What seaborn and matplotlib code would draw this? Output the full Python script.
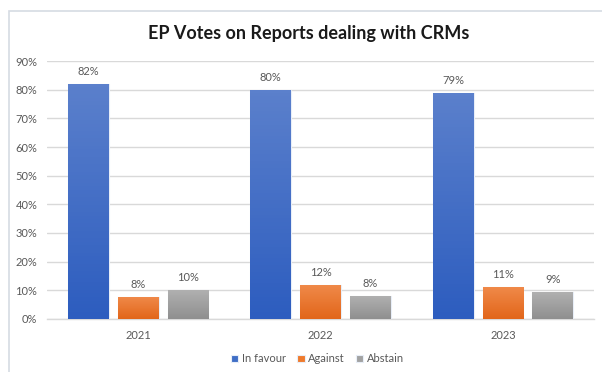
import numpy as np
import pandas as pd
import seaborn as sns
import matplotlib.pyplot as plt
from matplotlib.patches import Rectangle
from matplotlib.colors import LinearSegmentedColormap
from matplotlib.ticker import PercentFormatter

# data (share of votes, %)
years = ["2021", "2022", "2023"]
votes = ["In favour", "Against", "Abstain"]
in_favour = [82.0, 80.0, 79.0]
against = [7.7, 11.9, 11.3]
abstain = [10.1, 8.0, 9.3]
y_ticks = [0, 10, 20, 30, 40, 50, 60, 70, 80, 90]

df = pd.DataFrame({
    "Year": years * 3,
    "Vote": [v for v in votes for _ in years],
    "Share": in_favour + against + abstain,
})

sns.set_theme(style="white")
plt.rcParams["font.family"] = ["Lato", "DejaVu Sans"]

text_grey = "#595959"
grid_grey = "#d9d9d9"
palette = {"In favour": "#3f6ec6", "Against": "#ef7a2c", "Abstain": "#a2a2a2"}
# top -> bottom shades for the gradient fill
shades = {"In favour": ("#5b80cc", "#2d5dbf"),
          "Against": ("#f08a4a", "#e2661a"),
          "Abstain": ("#b0b0b0", "#8f8f8f")}

fig = plt.figure(figsize=(6.02, 3.72), dpi=100)
ax = fig.add_axes([0.078, 0.1425, 0.909, 0.6935])

# outer chart frame (cut by the image edge right and bottom)
fig.patches.append(Rectangle((9 / 602, -0.1), 1.2, 1 - 11 / 372 + 0.1,
                             transform=fig.transFigure, fill=False,
                             edgecolor="#d6dbe3", linewidth=1.2))

sns.barplot(data=df, x="Year", y="Share", hue="Vote", palette=palette,
            width=0.82, gap=0.18, ax=ax, edgecolor="#e8eef8", linewidth=0.8,
            saturation=1, legend=True, zorder=3)

ax.set_ylim(0, 90)
ax.set_xlim(-0.5, 2.5)

# vertical gradient inside each bar
for cont, vote in zip(ax.containers, votes):
    cmap = LinearSegmentedColormap.from_list(vote, [shades[vote][1], shades[vote][0]])
    for b in cont:
        x0, w, h = b.get_x(), b.get_width(), b.get_height()
        im = ax.imshow(np.linspace(0, 1, 64).reshape(-1, 1), cmap=cmap, origin="lower",
                       extent=[x0, x0 + w, 0, h], aspect="auto", zorder=3.5)
        im.set_clip_path(b)
    ax.bar_label(cont, labels=[f"{b.get_height():.0f}%" for b in cont],
                 padding=5, fontsize=8, color=text_grey)

ax.set_ylim(0, 90)
ax.set_xlim(-0.5, 2.5)
ax.set_yticks(y_ticks)
ax.yaxis.set_major_formatter(PercentFormatter(decimals=0))
ax.grid(axis="y", color=grid_grey, linewidth=1, zorder=0)
ax.set_axisbelow(True)
for s in ["top", "right", "left"]:
    ax.spines[s].set_visible(False)
ax.spines["bottom"].set_color(grid_grey)
ax.spines["bottom"].set_linewidth(1)
ax.tick_params(axis="both", length=0, labelsize=8, labelcolor=text_grey)
ax.tick_params(axis="x", pad=8)
ax.tick_params(axis="y", pad=7)
ax.set_xlabel("")
ax.set_ylabel("")

fig.text(0.512, 0.911, "EP Votes on Reports dealing with CRMs",
         ha="center", va="center", fontsize=13, fontweight="bold", color="#1a1a1a")

ax.legend(loc="center", bbox_to_anchor=(0.5 - 0.006, -0.155), ncol=3, frameon=False,
          fontsize=8, labelcolor=text_grey, handlelength=0.7, handleheight=0.7,
          handletextpad=0.3, columnspacing=1.0)

fig.savefig("out.png", dpi=100)
